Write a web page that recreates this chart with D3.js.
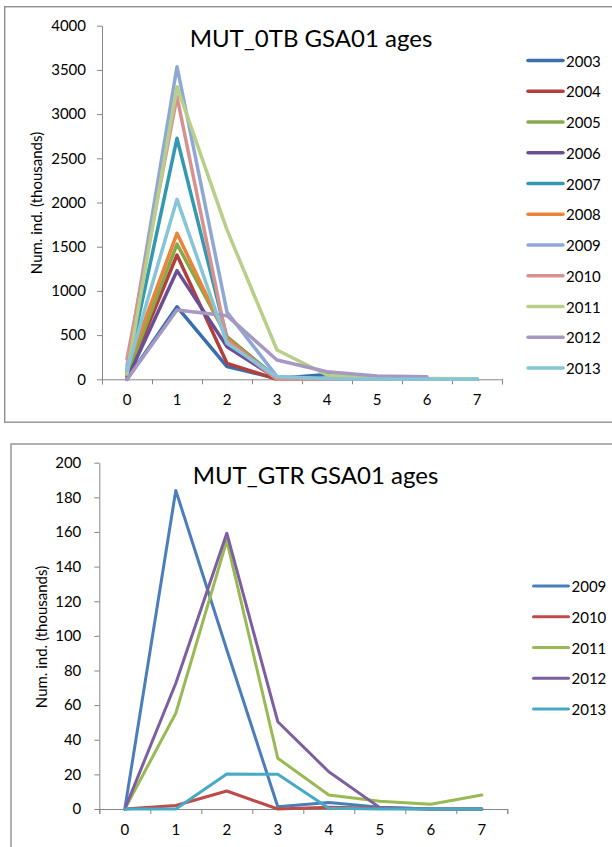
<!DOCTYPE html>
<html>
<head>
<meta charset="utf-8">
<script src="https://cdn.jsdelivr.net/npm/d3@7"></script>
<style>
  html, body { margin: 0; padding: 0; background: #fff; }
  svg { display: block; }
  text { font-family: Lato, "Open Sans", sans-serif; fill: #000; }
</style>
</head>
<body>
<svg id="chart" width="612" height="847"></svg>
<script>
// ---------- data ----------
const ages = ["0", "1", "2", "3", "4", "5", "6", "7"];

// Chart 1: MUT_0TB GSA01 ages
const title1 = "MUT_0TB GSA01 ages";
const years1 = ["2003", "2004", "2005", "2006", "2007", "2008", "2009", "2010", "2011", "2012", "2013"];
const colors1 = ["#3A6DAE", "#B23F3C", "#88A94A", "#6A5092", "#3399B1", "#E8853A", "#8EA8D6", "#D79290", "#B8CF8A", "#A798C2", "#86C4D7"];
const v2003 = [0, 820, 143, 10, 55, 5, 2, 1];
const v2004 = [30, 1406, 181, 0, 5, 2, 1, 0];
const v2005 = [50, 1530, 482, 10, 5, 2, 1, 0];
const v2006 = [0, 1229, 369, 10, 5, 2, 1, 0];
const v2007 = [80, 2726, 470, 20, 5, 2, 1, 0];
const v2008 = [120, 1651, 464, 10, 5, 2, 1, 0];
const v2009 = [150, 3536, 760, 30, 10, 3, 1, 0];
const v2010 = [230, 3197, 430, 0, 2, 1, 0, 0];
const v2011 = [60, 3310, 1690, 331, 49, 20, 10, 5];
const v2012 = [0, 784, 720, 218, 86, 37, 30];
const v2013 = [100, 2036, 407, 30, 5, 2, 1, 1];
const series1 = [v2003, v2004, v2005, v2006, v2007, v2008, v2009, v2010, v2011, v2012, v2013];
const yTicks1 = [0, 500, 1000, 1500, 2000, 2500, 3000, 3500, 4000];

// Chart 2: MUT_GTR GSA01 ages
const title2 = "MUT_GTR GSA01 ages";
const years2 = ["2009", "2010", "2011", "2012", "2013"];
const colors2 = ["#4A7EBB", "#BE4B48", "#98B954", "#7D5FA0", "#46AAC5"];
const g2009 = [0, 184, 92, 1.3, 3.8, 1, 0, 0];
const g2010 = [0, 2, 10.4, 0, 1, 0.5, 0, 0];
const g2011 = [0, 55.3, 155, 29.3, 8.1, 4.5, 2.7, 8.1];
const g2012 = [0, 72.6, 159.3, 50.4, 21.5, 0.8, 0, 0];
const g2013 = [0, 0, 20.2, 20, 0.5, 0, 0, 0];
const series2 = [g2009, g2010, g2011, g2012, g2013];
const yTicks2 = [0, 20, 40, 60, 80, 100, 120, 140, 160, 180, 200];

const yLabel = "Num. ind. (thousands)";

// ---------- drawing ----------
const svg = d3.select("#chart");
const axisColor = "#868686";
const fontSmall = 15;

function drawChart(cfg) {
  const g = svg.append("g");

  // chart area frame
  g.append("rect")
    .attr("x", cfg.frame[0]).attr("y", cfg.frame[1])
    .attr("width", cfg.frame[2]).attr("height", cfg.frame[3])
    .attr("fill", "#fff").attr("stroke", "#8f8f8f").attr("stroke-width", 1.4);

  const x = d3.scaleBand().domain(ages).range([cfg.x0, cfg.x1]).padding(0);
  const y = d3.scaleLinear().domain([0, cfg.yMax]).range([cfg.y0, cfg.yTop]);

  // y axis
  const yAxis = g.append("g")
    .attr("transform", `translate(${cfg.x0},0)`)
    .call(d3.axisLeft(y).tickValues(cfg.yTicks).tickFormat(d3.format("d"))
      .tickSize(5).tickSizeOuter(0).tickPadding(cfg.yPad));
  yAxis.select(".domain").attr("stroke", axisColor);
  yAxis.selectAll(".tick line").attr("stroke", axisColor);
  yAxis.attr("font-family", null).attr("font-size", null);
  yAxis.selectAll("text").attr("font-size", fontSmall).attr("fill", "#000");

  // x axis: boundary ticks
  const xb = d3.scaleLinear().domain([0, ages.length]).range([cfg.x0, cfg.x1]);
  const xTicksG = g.append("g")
    .attr("transform", `translate(0,${cfg.y0})`)
    .call(d3.axisBottom(xb).ticks(ages.length).tickSize(5).tickSizeOuter(5).tickFormat(""));
  xTicksG.select(".domain").attr("stroke", axisColor);
  xTicksG.selectAll(".tick line").attr("stroke", axisColor);

  // x category labels
  const xAxis = g.append("g")
    .attr("transform", `translate(0,${cfg.y0})`)
    .call(d3.axisBottom(x).tickSize(0).tickPadding(15));
  xAxis.select(".domain").remove();
  xAxis.attr("font-family", null).attr("font-size", null);
  xAxis.selectAll("text").attr("font-size", fontSmall).attr("fill", "#000");

  // lines
  const line = d3.line()
    .x((d, i) => x(ages[i]) + x.bandwidth() / 2)
    .y(d => y(d));
  g.append("g").selectAll("path")
    .data(cfg.series)
    .join("path")
    .attr("d", d => line(d))
    .attr("fill", "none")
    .attr("stroke", (d, i) => cfg.colors[i])
    .attr("stroke-width", cfg.lw)
    .attr("stroke-linejoin", "round")
    .attr("stroke-linecap", "round");

  // title
  g.append("text")
    .attr("x", cfg.titleX).attr("y", cfg.titleY)
    .attr("text-anchor", "middle")
    .attr("font-size", 24)
    .text(cfg.title);

  // y axis title
  g.append("text")
    .attr("transform", `translate(${cfg.yLabelX},${cfg.yLabelY}) rotate(-90)`)
    .attr("text-anchor", "middle")
    .attr("dominant-baseline", "middle")
    .attr("font-size", fontSmall)
    .text(yLabel);

  // legend
  const leg = g.append("g").selectAll("g")
    .data(cfg.years)
    .join("g")
    .attr("transform", (d, i) => `translate(${cfg.legX},${cfg.legY + i * 30.75})`);
  leg.append("line")
    .attr("x1", 0).attr("x2", 35).attr("y1", 0).attr("y2", 0)
    .attr("stroke", (d, i) => cfg.colors[i])
    .attr("stroke-width", cfg.lw)
    .attr("stroke-linecap", "round");
  leg.append("text")
    .attr("x", 38).attr("y", 0)
    .attr("dominant-baseline", "central")
    .attr("font-size", fontSmall)
    .text(d => d);
}

drawChart({
  frame: [4.7, 6.7, 640, 415.5],
  x0: 102, x1: 502, y0: 379.3, yTop: 25.7, yMax: 4000, yTicks: yTicks1, yPad: 11,
  series: series1, colors: colors1, years: years1, lw: 3.5,
  title: title1, titleX: 311, titleY: 46.5,
  yLabelX: 38, yLabelY: 203,
  legX: 528, legY: 60.5
});

drawChart({
  frame: [11, 444, 640, 420],
  x0: 99.3, x1: 507.3, y0: 809, yTop: 462.7, yMax: 200, yTicks: yTicks2, yPad: 13,
  series: series2, colors: colors2, years: years2, lw: 3,
  title: title2, titleX: 315.5, titleY: 483.5,
  yLabelX: 43, yLabelY: 637,
  legX: 533.5, legY: 586
});
</script>
</body>
</html>
